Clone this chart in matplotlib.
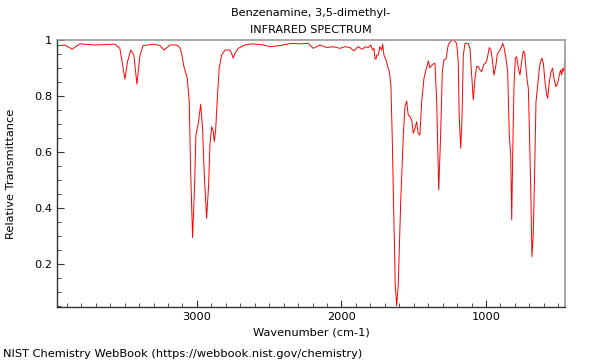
import matplotlib
matplotlib.use("Agg")
from matplotlib import pyplot as plt
from matplotlib.ticker import MultipleLocator, FormatStrFormatter

# IR spectrum (wavenumber cm-1, relative transmittance)
wavenumber = [3964, 3913, 3863, 3810, 3706, 3567, 3533, 3498, 3480, 3457,
              3436, 3415, 3394, 3372, 3291, 3256, 3226, 3187, 3140, 3118,
              3106, 3090, 3067, 3053, 3044, 3030, 3016, 3007, 2991, 2974,
              2961, 2949, 2933, 2919, 2910, 2898, 2887, 2880, 2871, 2860,
              2846, 2829, 2806, 2772, 2760, 2749, 2737, 2714, 2668, 2633,
              2610, 2541, 2495, 2426, 2345, 2287, 2230, 2195, 2149, 2102,
              2057, 2010, 1976, 1941, 1914, 1884, 1860, 1849, 1837, 1815,
              1798, 1784, 1775, 1768, 1761, 1756, 1745, 1734, 1722, 1715,
              1706, 1692, 1680, 1669, 1658, 1649, 1637, 1628, 1618, 1607,
              1590, 1572, 1561, 1549, 1538, 1526, 1514, 1503, 1491, 1480,
              1469, 1457, 1445, 1429, 1415, 1399, 1388, 1369, 1353, 1341,
              1327, 1314, 1302, 1291, 1277, 1261, 1244, 1222, 1203, 1192,
              1185, 1175, 1166, 1157, 1145, 1123, 1111, 1099, 1088, 1076,
              1065, 1053, 1042, 1030, 1014, 1002, 991, 977, 966, 956,
              945, 931, 922, 903, 892, 885, 876, 862, 850, 839,
              829, 822, 815, 806, 797, 788, 776, 765, 753, 742,
              732, 723, 714, 707, 700, 691, 682, 673, 663, 654,
              642, 631, 622, 613, 603, 592, 580, 573, 562, 550,
              539, 530, 516, 504, 493, 483, 476, 469, 460, 453]
transmittance = [0.979, 0.982, 0.967, 0.986, 0.982, 0.985, 0.970, 0.860, 0.923, 0.964,
                 0.946, 0.842, 0.946, 0.980, 0.985, 0.980, 0.964, 0.982, 0.982, 0.973,
                 0.952, 0.905, 0.863, 0.780, 0.543, 0.294, 0.482, 0.660, 0.700, 0.770,
                 0.685, 0.518, 0.363, 0.482, 0.625, 0.690, 0.673, 0.637, 0.673, 0.780,
                 0.899, 0.946, 0.964, 0.964, 0.952, 0.935, 0.952, 0.970, 0.982, 0.985,
                 0.986, 0.982, 0.976, 0.980, 0.988, 0.986, 0.988, 0.970, 0.982, 0.973,
                 0.976, 0.970, 0.976, 0.973, 0.961, 0.976, 0.968, 0.968, 0.976, 0.973,
                 0.982, 0.964, 0.970, 0.932, 0.932, 0.946, 0.946, 0.976, 0.964, 0.985,
                 0.946, 0.929, 0.905, 0.887, 0.839, 0.660, 0.363, 0.125, 0.051, 0.125,
                 0.423, 0.660, 0.762, 0.782, 0.732, 0.726, 0.714, 0.667, 0.685, 0.708,
                 0.667, 0.660, 0.780, 0.863, 0.893, 0.925, 0.901, 0.913, 0.917, 0.780,
                 0.464, 0.660, 0.887, 0.929, 0.932, 0.982, 0.996, 0.999, 0.988, 0.923,
                 0.720, 0.613, 0.720, 0.946, 0.988, 0.988, 0.970, 0.875, 0.786, 0.863,
                 0.905, 0.905, 0.893, 0.887, 0.913, 0.917, 0.935, 0.973, 0.964, 0.929,
                 0.874, 0.911, 0.949, 0.964, 0.976, 0.988, 0.976, 0.935, 0.887, 0.660,
                 0.589, 0.357, 0.601, 0.839, 0.935, 0.940, 0.899, 0.875, 0.923, 0.961,
                 0.952, 0.899, 0.851, 0.827, 0.685, 0.482, 0.226, 0.304, 0.542, 0.780,
                 0.839, 0.899, 0.923, 0.935, 0.917, 0.851, 0.804, 0.792, 0.851, 0.887,
                 0.899, 0.863, 0.833, 0.845, 0.875, 0.893, 0.875, 0.899, 0.887, 0.935]

plt.rcParams["font.family"] = "DejaVu Sans"
plt.rcParams["font.size"] = 8.2

fig = plt.figure(figsize=(6, 3.6), dpi=100)
ax = fig.add_axes([0.095, 0.147, 0.847, 0.742])

ax.plot(wavenumber, transmittance, color="#ff0000", linewidth=0.7)

ax.set_xlim(3968, 452)
ax.set_ylim(0.046, 1.0)
ax.xaxis.set_major_locator(MultipleLocator(1000))
ax.xaxis.set_minor_locator(MultipleLocator(100))
ax.yaxis.set_major_locator(MultipleLocator(0.2))
ax.yaxis.set_minor_locator(MultipleLocator(0.05))
ax.yaxis.set_major_formatter(FormatStrFormatter("%g"))
ax.tick_params(which="both", direction="in", color="#333333", top=False, right=False)
ax.tick_params(which="major", length=5)
ax.tick_params(which="minor", length=3)

for s in ["top", "right"]:
    ax.spines[s].set_color("#999999")
    ax.spines[s].set_linewidth(1.2)
for s in ["left", "bottom"]:
    ax.spines[s].set_color("#333333")
    ax.spines[s].set_linewidth(1.0)

# two title lines
fig.text(0.518, 0.964, "Benzenamine, 3,5-dimethyl-", ha="center", va="center", fontsize=8.1)
fig.text(0.518, 0.917, "INFRARED SPECTRUM", ha="center", va="center", fontsize=8.1)
ax.set_xlabel("Wavenumber (cm-1)", labelpad=4)
ax.set_ylabel("Relative Transmittance", labelpad=13)
fig.text(0.005, 0.008, "NIST Chemistry WebBook (https://webbook.nist.gov/chemistry)", fontsize=8.2)

fig.savefig("out.png")
